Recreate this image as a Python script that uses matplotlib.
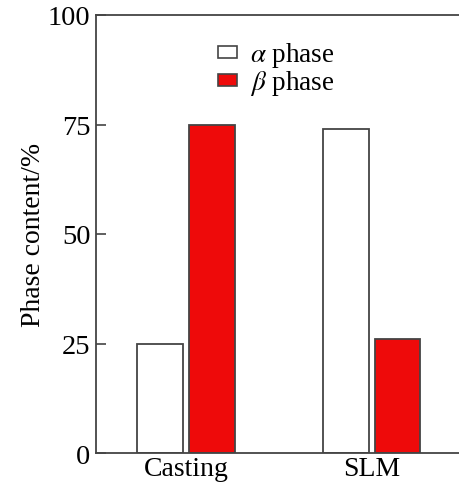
import numpy as np
import matplotlib.pyplot as plt
from matplotlib.patches import Patch

# data
categories = ['Casting', 'SLM']
alpha_phase = [25, 74]
beta_phase = [75, 26]
yticks = [0, 25, 50, 75, 100]

plt.rcParams['font.family'] = ['Liberation Serif', 'DejaVu Serif']
plt.rcParams['mathtext.fontset'] = 'stix'

fig = plt.figure(figsize=(4.59, 4.89), dpi=100)
ax = fig.add_axes([96 / 459, 1 - 454 / 489, 1 - 96 / 459, (454 - 16) / 489])

x = np.arange(len(categories))
w = 0.245
ax.bar(x - 0.14, alpha_phase, w, color='white', edgecolor='#444444', linewidth=1.3)
ax.bar(x + 0.14, beta_phase, w, color='#ee0a0a', edgecolor='#444444', linewidth=1.3)

ax.set_xlim(-0.486, 1.47)
ax.set_ylim(0, 100)
ax.set_yticks(yticks)
ax.set_xticks(x)
ax.set_xticklabels(categories, fontsize=20)
ax.tick_params(axis='y', direction='in', length=7, width=1.2, labelsize=20.5, pad=4,
               color='#444444')
ax.tick_params(axis='x', length=0, pad=2)
ax.set_ylabel('Phase content/%', fontsize=20, labelpad=1)

for s in ['left', 'top', 'bottom']:
    ax.spines[s].set_linewidth(1.3)
    ax.spines[s].set_color('#444444')
ax.spines['right'].set_visible(False)

handles = [Patch(facecolor='white', edgecolor='#444444', linewidth=1.2),
           Patch(facecolor='#ee0a0a', edgecolor='#444444', linewidth=1.2)]
ax.legend(handles, [r'$\alpha$ phase', r'$\beta$ phase'], loc='upper left',
          bbox_to_anchor=(0.336, 0.942), frameon=False, fontsize=19.5,
          borderpad=0, borderaxespad=0,
          handlelength=0.72, handleheight=0.3, handletextpad=0.45, labelspacing=-0.04)

fig.savefig('out.png', dpi=100)
